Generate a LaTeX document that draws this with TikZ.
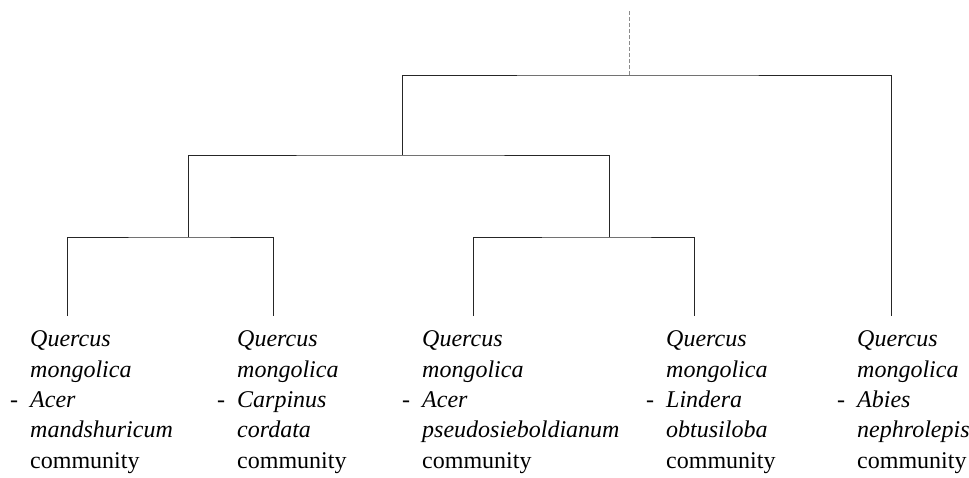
\documentclass[tikz,border=0pt]{standalone}
\usepackage{fontspec}
\setmainfont{Liberation Serif}
\begin{document}
\begin{tikzpicture}[x=1pt,y=-1pt,
  link/.style={draw=black!85,line width=0.9pt},
  rootlink/.style={draw=black!45,line width=0.8pt,dash pattern=on 4pt off 2pt},
  leaflabel/.style={anchor=base west,inner sep=0pt,align=left,
    font=\fontsize{24}{30.3}\selectfont}]
\useasboundingbox (0,0) rectangle (969,477);
% leaf tops
\coordinate (t1) at (67,316);
\coordinate (t2) at (273,316);
\coordinate (t3) at (473,316);
\coordinate (t4) at (694,316);
\coordinate (t5) at (891,316);
% junctions
\coordinate (ja) at (188,237);
\coordinate (jb) at (609,237);
\coordinate (jc) at (402,155);
\coordinate (jd) at (629,75);
\coordinate (root) at (629,11);
% dendrogram
\draw[link] (t1) |- (ja) -| (t2);
\draw[link] (t3) |- (jb) -| (t4);
\draw[link] (ja) |- (jc) -| (jb);
\draw[link] (jc) |- (jd) -| (t5);
\draw[rootlink] (root) -- (jd);
% labels (anchor: baseline of last line)
\node[leaflabel] (l1) at (30,468) {\textit{Quercus}\\\textit{mongolica}\\\llap{-\hspace{0.5em}}\textit{Acer}\\\textit{mandshuricum}\\community};
\node[leaflabel] (l2) at (237,468) {\textit{Quercus}\\\textit{mongolica}\\\llap{-\hspace{0.5em}}\textit{Carpinus}\\\textit{cordata}\\community};
\node[leaflabel] (l3) at (422,468) {\textit{Quercus}\\\textit{mongolica}\\\llap{-\hspace{0.5em}}\textit{Acer}\\\textit{pseudosieboldianum}\\community};
\node[leaflabel] (l4) at (666,468) {\textit{Quercus}\\\textit{mongolica}\\\llap{-\hspace{0.5em}}\textit{Lindera}\\\textit{obtusiloba}\\community};
\node[leaflabel] (l5) at (857,468) {\textit{Quercus}\\\textit{mongolica}\\\llap{-\hspace{0.5em}}\textit{Abies}\\\textit{nephrolepis}\\community};
\end{tikzpicture}
\end{document}
